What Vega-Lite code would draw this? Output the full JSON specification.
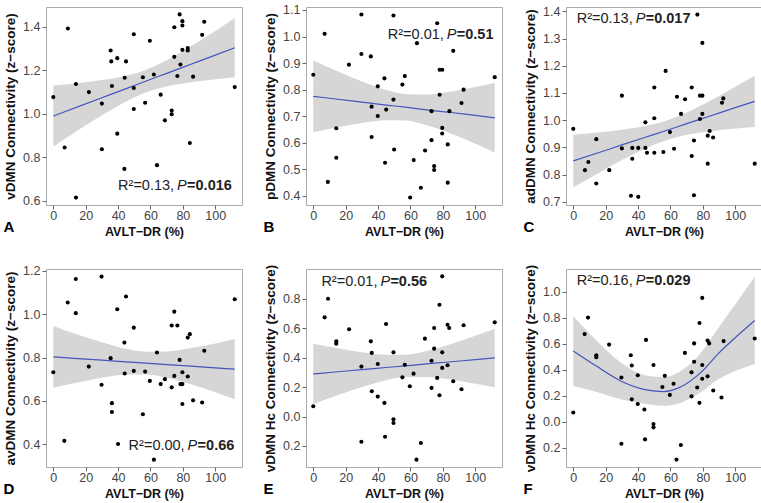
{
"$schema":"https://vega.github.io/schema/vega-lite/v6.json",
"padding":{"left":3,"top":3,"right":0,"bottom":0},
"background":"white",
"columns":3,
"spacing":{"row":64,"column":64},
"bounds":"flush",
"datasets":{
"ptsA":[{"x":0,"y":1.077},{"x":7,"y":0.845},{"x":9,"y":1.392},{"x":14,"y":1.137},{"x":14,"y":0.615},{"x":22,"y":1.1},{"x":30,"y":1.047},{"x":30,"y":0.837},{"x":35.4,"y":1.291},{"x":35.8,"y":1.241},{"x":36.2,"y":1.128},{"x":39.5,"y":1.256},{"x":39.5,"y":0.909},{"x":43.9,"y":0.747},{"x":44.1,"y":1.166},{"x":44.9,"y":1.241},{"x":49.7,"y":1.366},{"x":49.7,"y":1.119},{"x":49.7,"y":1.022},{"x":55.3,"y":1.168},{"x":56.7,"y":1.051},{"x":59.6,"y":1.336},{"x":62.1,"y":1.181},{"x":64,"y":0.764},{"x":66.3,"y":1.088},{"x":68.9,"y":0.97},{"x":73.1,"y":1.015},{"x":73.1,"y":0.998},{"x":74.7,"y":1.398},{"x":74.7,"y":1.262},{"x":76.6,"y":1.174},{"x":78,"y":1.457},{"x":78.5,"y":1.227},{"x":79.7,"y":1.426},{"x":79.7,"y":1.406},{"x":79.7,"y":1.294},{"x":83,"y":1.302},{"x":83,"y":1.291},{"x":84.3,"y":0.866},{"x":86.3,"y":1.171},{"x":91.9,"y":1.363},{"x":93.2,"y":1.423},{"x":112,"y":1.123}],
"ptsB":[{"x":0,"y":0.856},{"x":7,"y":1.01},{"x":9,"y":0.453},{"x":14.2,"y":0.655},{"x":14.2,"y":0.544},{"x":22,"y":0.894},{"x":29.7,"y":1.083},{"x":29.7,"y":0.934},{"x":35.5,"y":0.925},{"x":36,"y":0.736},{"x":36,"y":0.622},{"x":39.8,"y":0.8125},{"x":39.8,"y":0.701},{"x":43.9,"y":0.8425},{"x":44.3,"y":0.525},{"x":45,"y":0.725},{"x":49.5,"y":0.7625},{"x":49.5,"y":1.079},{"x":49.9,"y":0.575},{"x":55,"y":0.819},{"x":56.5,"y":0.851},{"x":62,"y":0.535},{"x":64,"y":0.975},{"x":66.4,"y":0.431},{"x":59.8,"y":0.394},{"x":69,"y":0.571},{"x":73,"y":0.61},{"x":73,"y":0.719},{"x":74.6,"y":0.5125},{"x":74.6,"y":0.4975},{"x":76.5,"y":1.05},{"x":78,"y":0.781},{"x":78,"y":0.875},{"x":79.6,"y":0.875},{"x":79.6,"y":0.656},{"x":79.6,"y":0.635},{"x":83,"y":0.594},{"x":83,"y":0.45},{"x":84,"y":0.719},{"x":86.4,"y":0.946},{"x":91.5,"y":0.75},{"x":92.8,"y":0.8},{"x":112,"y":0.847}],
"ptsC":[{"x":0,"y":0.968},{"x":7.2,"y":0.816},{"x":9.3,"y":0.846},{"x":14.2,"y":0.93},{"x":14.2,"y":0.767},{"x":22.2,"y":0.816},{"x":30,"y":0.896},{"x":30,"y":1.09},{"x":35.6,"y":0.722},{"x":36.4,"y":0.898},{"x":36.4,"y":0.858},{"x":40.1,"y":0.718},{"x":40.1,"y":0.898},{"x":44.5,"y":0.992},{"x":44.5,"y":0.898},{"x":45.5,"y":0.88},{"x":50,"y":0.88},{"x":50,"y":1.007},{"x":50,"y":1.12},{"x":55.6,"y":0.883},{"x":57,"y":1.181},{"x":59.7,"y":0.956},{"x":62.2,"y":0.895},{"x":64,"y":1.086},{"x":66.5,"y":1.023},{"x":69,"y":1.077},{"x":73.1,"y":1.12},{"x":73.1,"y":0.868},{"x":74.5,"y":0.925},{"x":74.5,"y":0.724},{"x":76.6,"y":1.388},{"x":78.2,"y":1.004},{"x":78.2,"y":1.09},{"x":79.7,"y":1.09},{"x":79.7,"y":1.284},{"x":79.7,"y":1.023},{"x":83,"y":0.943},{"x":83,"y":0.84},{"x":84.2,"y":0.96},{"x":86.3,"y":0.936},{"x":91.8,"y":1.064},{"x":92.6,"y":1.08},{"x":112,"y":0.84}],
"ptsD":[{"x":0,"y":0.732},{"x":6.8,"y":0.415},{"x":8.9,"y":1.054},{"x":13.9,"y":1.163},{"x":13.9,"y":1.005},{"x":21.9,"y":0.758},{"x":29.8,"y":1.174},{"x":29.8,"y":0.674},{"x":35.4,"y":0.797},{"x":36.2,"y":0.589},{"x":36.2,"y":0.548},{"x":39.5,"y":1.023},{"x":40,"y":0.4},{"x":43.9,"y":0.869},{"x":44.1,"y":0.726},{"x":44.9,"y":1.082},{"x":49.7,"y":0.938},{"x":49.7,"y":0.738},{"x":55.3,"y":0.538},{"x":56.7,"y":0.735},{"x":59.6,"y":0.692},{"x":62.1,"y":0.328},{"x":64,"y":0.823},{"x":66.3,"y":0.677},{"x":68.9,"y":0.7},{"x":73.1,"y":0.948},{"x":73.1,"y":0.662},{"x":74.7,"y":1.012},{"x":74.7,"y":0.715},{"x":76.6,"y":0.948},{"x":78,"y":0.789},{"x":78.5,"y":0.677},{"x":79.7,"y":0.677},{"x":79.7,"y":0.732},{"x":79.7,"y":0.585},{"x":83,"y":0.712},{"x":83,"y":0.892},{"x":84.3,"y":0.908},{"x":86.3,"y":0.602},{"x":91.9,"y":0.592},{"x":93.2,"y":0.831},{"x":112,"y":1.069}],
"ptsE":[{"x":0,"y":0.07},{"x":7,"y":0.675},{"x":9.1,"y":0.802},{"x":14.2,"y":0.512},{"x":14.2,"y":0.496},{"x":22.1,"y":0.594},{"x":29.7,"y":0.34},{"x":29.7,"y":-0.171},{"x":35.5,"y":0.512},{"x":36.1,"y":0.433},{"x":36.1,"y":0.172},{"x":39.8,"y":0.358},{"x":39.8,"y":0.136},{"x":43.9,"y":0.093},{"x":44.3,"y":-0.137},{"x":44.9,"y":0.63},{"x":49.5,"y":0.437},{"x":49.5,"y":-0.019},{"x":49.5,"y":-0.044},{"x":55,"y":0.267},{"x":56.5,"y":0.353},{"x":59.6,"y":0.206},{"x":61.9,"y":0.292},{"x":63.7,"y":-0.293},{"x":66.4,"y":-0.18},{"x":68.9,"y":0.53},{"x":73,"y":0.38},{"x":73,"y":0.195},{"x":74.6,"y":0.603},{"x":74.6,"y":0.462},{"x":76.5,"y":0.263},{"x":77.9,"y":0.761},{"x":77.9,"y":0.145},{"x":79.6,"y":0.954},{"x":79.6,"y":0.437},{"x":79.6,"y":0.331},{"x":82.9,"y":0.625},{"x":82.9,"y":0.349},{"x":83.9,"y":0.603},{"x":86.4,"y":0.24},{"x":91.5,"y":0.186},{"x":92.8,"y":0.621},{"x":112,"y":0.641}],
"fitA":[{"x":0,"y":0.99,"lo":0.85,"hi":1.13},{"x":15,"y":1.032,"lo":0.923,"hi":1.141},{"x":30,"y":1.074,"lo":0.993,"hi":1.155},{"x":45,"y":1.116,"lo":1.057,"hi":1.175},{"x":57,"y":1.15,"lo":1.098,"hi":1.202},{"x":70,"y":1.186,"lo":1.126,"hi":1.246},{"x":85,"y":1.228,"lo":1.145,"hi":1.311},{"x":100,"y":1.27,"lo":1.159,"hi":1.381},{"x":112,"y":1.304,"lo":1.168,"hi":1.44}],
"fitB":[{"x":0,"y":0.775,"lo":0.64,"hi":0.91},{"x":15,"y":0.764,"lo":0.659,"hi":0.869},{"x":30,"y":0.753,"lo":0.675,"hi":0.831},{"x":45,"y":0.742,"lo":0.685,"hi":0.799},{"x":57,"y":0.734,"lo":0.684,"hi":0.784},{"x":70,"y":0.724,"lo":0.666,"hi":0.782},{"x":85,"y":0.714,"lo":0.635,"hi":0.793},{"x":100,"y":0.703,"lo":0.596,"hi":0.81},{"x":112,"y":0.694,"lo":0.563,"hi":0.825}],
"fitC":[{"x":0,"y":0.85,"lo":0.753,"hi":0.947},{"x":15,"y":0.879,"lo":0.803,"hi":0.955},{"x":30,"y":0.909,"lo":0.853,"hi":0.965},{"x":45,"y":0.938,"lo":0.897,"hi":0.979},{"x":57,"y":0.961,"lo":0.925,"hi":0.997},{"x":70,"y":0.987,"lo":0.946,"hi":1.028},{"x":85,"y":1.016,"lo":0.959,"hi":1.073},{"x":100,"y":1.046,"lo":0.969,"hi":1.123},{"x":112,"y":1.069,"lo":0.975,"hi":1.163}],
"fitD":[{"x":0,"y":0.803,"lo":0.66,"hi":0.946},{"x":15,"y":0.795,"lo":0.684,"hi":0.906},{"x":30,"y":0.788,"lo":0.706,"hi":0.87},{"x":45,"y":0.78,"lo":0.72,"hi":0.84},{"x":57,"y":0.774,"lo":0.721,"hi":0.827},{"x":70,"y":0.767,"lo":0.706,"hi":0.828},{"x":85,"y":0.76,"lo":0.676,"hi":0.844},{"x":100,"y":0.752,"lo":0.639,"hi":0.865},{"x":112,"y":0.746,"lo":0.607,"hi":0.885}],
"fitE":[{"x":0,"y":0.29,"lo":0.085,"hi":0.495},{"x":15,"y":0.305,"lo":0.145,"hi":0.465},{"x":30,"y":0.319,"lo":0.201,"hi":0.437},{"x":45,"y":0.334,"lo":0.248,"hi":0.42},{"x":57,"y":0.345,"lo":0.269,"hi":0.421},{"x":70,"y":0.358,"lo":0.27,"hi":0.446},{"x":85,"y":0.373,"lo":0.252,"hi":0.494},{"x":100,"y":0.387,"lo":0.224,"hi":0.55},{"x":112,"y":0.399,"lo":0.2,"hi":0.598}],
"fitF":[{"x":0,"y":0.545,"lo":0.275,"hi":0.815},{"x":14,"y":0.43,"lo":0.23,"hi":0.63},{"x":30,"y":0.31,"lo":0.17,"hi":0.45},{"x":45,"y":0.245,"lo":0.135,"hi":0.355},{"x":56,"y":0.232,"lo":0.122,"hi":0.342},{"x":65,"y":0.26,"lo":0.14,"hi":0.38},{"x":78,"y":0.37,"lo":0.22,"hi":0.52},{"x":90,"y":0.53,"lo":0.33,"hi":0.73},{"x":102,"y":0.67,"lo":0.4,"hi":0.94},{"x":112,"y":0.78,"lo":0.445,"hi":1.115}],
"txtA":[{"x":40,"y":0.669,"a":"R²=0.13,","p":"P","b":"=0.016"}],
"txtB":[{"x":46,"y":1.006,"a":"R²=0.01,","p":"P","b":"=0.51"}],
"txtC":[{"x":2.1,"y":1.372,"a":"R²=0.13,","p":"P","b":"=0.017"}],
"txtD":[{"x":46.5,"y":0.389,"a":"R²=0.00,","p":"P","b":"=0.66"}],
"txtE":[{"x":5,"y":0.916,"a":"R²=0.01,","p":"P","b":"=0.56"}],
"txtF":[{"x":2.1,"y":1.082,"a":"R²=0.16,","p":"P","b":"=0.029"}]
},
"concat":[
{"width":196,"height":198,"title":{"text":"A"},
 "encoding":{"x":{"field":"x","type":"quantitative","scale":{"domain":[-4.5,116.5],"nice":false,"zero":false},"axis":{"values":[0,20,40,60,80,100],"title":"AVLT−DR (%)"}},
  "y":{"field":"y","type":"quantitative","scale":{"domain":[0.581,1.491],"nice":false,"zero":false},"axis":{"values":[0.6,0.8,1.0,1.2,1.4],"format":".1f"},"title":"vDMN Connectivity (z−score)"}},
 "layer":[
  {"data":{"name":"fitA"},"mark":{"type":"area","color":"#d6d6d6","interpolate":"monotone"},"encoding":{"y":{"field":"lo","type":"quantitative","title":"vDMN Connectivity (z−score)"},"y2":{"field":"hi"}}},
  {"data":{"name":"fitA"},"mark":{"type":"line","color":"#4455bb","strokeWidth":1.2,"interpolate":"monotone"},"encoding":{}},
  {"data":{"name":"ptsA"},"mark":{"type":"circle","color":"#000","size":17,"opacity":1},"encoding":{}},
  {"data":{"name":"txtA"},"mark":{"type":"text","align":"left","baseline":"middle","fontSize":14.5,"color":"#222"},"encoding":{"text":{"field":"a"}}},
  {"data":{"name":"txtA"},"mark":{"type":"text","align":"left","baseline":"middle","fontSize":14.5,"fontStyle":"italic","color":"#222","dx":59},"encoding":{"text":{"field":"p"}}},
  {"data":{"name":"txtA"},"mark":{"type":"text","align":"left","baseline":"middle","fontSize":14.5,"fontWeight":"bold","color":"#222","dx":69},"encoding":{"text":{"field":"b"}}}
 ]},
{"width":196,"height":198,"title":{"text":"B"},
 "encoding":{"x":{"field":"x","type":"quantitative","scale":{"domain":[-4.5,116.5],"nice":false,"zero":false},"axis":{"values":[0,20,40,60,80,100],"title":"AVLT−DR (%)"}},
  "y":{"field":"y","type":"quantitative","scale":{"domain":[0.366,1.111],"nice":false,"zero":false},"axis":{"values":[0.4,0.5,0.6,0.7,0.8,0.9,1.0,1.1],"format":".1f"},"title":"pDMN Connectivity (z−score)"}},
 "layer":[
  {"data":{"name":"fitB"},"mark":{"type":"area","color":"#d6d6d6","interpolate":"monotone"},"encoding":{"y":{"field":"lo","type":"quantitative","title":"pDMN Connectivity (z−score)"},"y2":{"field":"hi"}}},
  {"data":{"name":"fitB"},"mark":{"type":"line","color":"#4455bb","strokeWidth":1.2,"interpolate":"monotone"},"encoding":{}},
  {"data":{"name":"ptsB"},"mark":{"type":"circle","color":"#000","size":17,"opacity":1},"encoding":{}},
  {"data":{"name":"txtB"},"mark":{"type":"text","align":"left","baseline":"middle","fontSize":14.5,"color":"#222"},"encoding":{"text":{"field":"a"}}},
  {"data":{"name":"txtB"},"mark":{"type":"text","align":"left","baseline":"middle","fontSize":14.5,"fontStyle":"italic","color":"#222","dx":59},"encoding":{"text":{"field":"p"}}},
  {"data":{"name":"txtB"},"mark":{"type":"text","align":"left","baseline":"middle","fontSize":14.5,"fontWeight":"bold","color":"#222","dx":69},"encoding":{"text":{"field":"b"}}}
 ]},
{"width":196,"height":198,"title":{"text":"C"},
 "encoding":{"x":{"field":"x","type":"quantitative","scale":{"domain":[-4.5,116.5],"nice":false,"zero":false},"axis":{"values":[0,20,40,60,80,100],"title":"AVLT−DR (%)"}},
  "y":{"field":"y","type":"quantitative","scale":{"domain":[0.688,1.416],"nice":false,"zero":false},"axis":{"values":[0.7,0.8,0.9,1.0,1.1,1.2,1.3,1.4],"format":".1f"},"title":"adDMN Connectivity (z−score)"}},
 "layer":[
  {"data":{"name":"fitC"},"mark":{"type":"area","color":"#d6d6d6","interpolate":"monotone"},"encoding":{"y":{"field":"lo","type":"quantitative","title":"adDMN Connectivity (z−score)"},"y2":{"field":"hi"}}},
  {"data":{"name":"fitC"},"mark":{"type":"line","color":"#4455bb","strokeWidth":1.2,"interpolate":"monotone"},"encoding":{}},
  {"data":{"name":"ptsC"},"mark":{"type":"circle","color":"#000","size":17,"opacity":1},"encoding":{}},
  {"data":{"name":"txtC"},"mark":{"type":"text","align":"left","baseline":"middle","fontSize":14.5,"color":"#222"},"encoding":{"text":{"field":"a"}}},
  {"data":{"name":"txtC"},"mark":{"type":"text","align":"left","baseline":"middle","fontSize":14.5,"fontStyle":"italic","color":"#222","dx":59},"encoding":{"text":{"field":"p"}}},
  {"data":{"name":"txtC"},"mark":{"type":"text","align":"left","baseline":"middle","fontSize":14.5,"fontWeight":"bold","color":"#222","dx":69},"encoding":{"text":{"field":"b"}}}
 ]},
{"width":196,"height":198,"title":{"text":"D"},
 "encoding":{"x":{"field":"x","type":"quantitative","scale":{"domain":[-4.5,116.5],"nice":false,"zero":false},"axis":{"values":[0,20,40,60,80,100],"title":"AVLT−DR (%)"}},
  "y":{"field":"y","type":"quantitative","scale":{"domain":[0.294,1.209],"nice":false,"zero":false},"axis":{"values":[0.4,0.6,0.8,1.0,1.2],"format":".1f"},"title":"avDMN Connectivity (z−score)"}},
 "layer":[
  {"data":{"name":"fitD"},"mark":{"type":"area","color":"#d6d6d6","interpolate":"monotone"},"encoding":{"y":{"field":"lo","type":"quantitative","title":"avDMN Connectivity (z−score)"},"y2":{"field":"hi"}}},
  {"data":{"name":"fitD"},"mark":{"type":"line","color":"#4455bb","strokeWidth":1.2,"interpolate":"monotone"},"encoding":{}},
  {"data":{"name":"ptsD"},"mark":{"type":"circle","color":"#000","size":17,"opacity":1},"encoding":{}},
  {"data":{"name":"txtD"},"mark":{"type":"text","align":"left","baseline":"middle","fontSize":14.5,"color":"#222"},"encoding":{"text":{"field":"a"}}},
  {"data":{"name":"txtD"},"mark":{"type":"text","align":"left","baseline":"middle","fontSize":14.5,"fontStyle":"italic","color":"#222","dx":59},"encoding":{"text":{"field":"p"}}},
  {"data":{"name":"txtD"},"mark":{"type":"text","align":"left","baseline":"middle","fontSize":14.5,"fontWeight":"bold","color":"#222","dx":69},"encoding":{"text":{"field":"b"}}}
 ]},
{"width":196,"height":198,"title":{"text":"E"},
 "encoding":{"x":{"field":"x","type":"quantitative","scale":{"domain":[-4.5,116.5],"nice":false,"zero":false},"axis":{"values":[0,20,40,60,80,100],"title":"AVLT−DR (%)"}},
  "y":{"field":"y","type":"quantitative","scale":{"domain":[-0.343,1.004],"nice":false,"zero":false},"axis":{"values":[-0.2,0,0.2,0.4,0.6,0.8],"labelExpr":"format(abs(datum.value), '.1f')"},"title":"vDMN Hc Connectivity (z−score)"}},
 "layer":[
  {"data":{"name":"fitE"},"mark":{"type":"area","color":"#d6d6d6","interpolate":"monotone"},"encoding":{"y":{"field":"lo","type":"quantitative","title":"vDMN Hc Connectivity (z−score)"},"y2":{"field":"hi"}}},
  {"data":{"name":"fitE"},"mark":{"type":"line","color":"#4455bb","strokeWidth":1.2,"interpolate":"monotone"},"encoding":{}},
  {"data":{"name":"ptsE"},"mark":{"type":"circle","color":"#000","size":17,"opacity":1},"encoding":{}},
  {"data":{"name":"txtE"},"mark":{"type":"text","align":"left","baseline":"middle","fontSize":14.5,"color":"#222"},"encoding":{"text":{"field":"a"}}},
  {"data":{"name":"txtE"},"mark":{"type":"text","align":"left","baseline":"middle","fontSize":14.5,"fontStyle":"italic","color":"#222","dx":59},"encoding":{"text":{"field":"p"}}},
  {"data":{"name":"txtE"},"mark":{"type":"text","align":"left","baseline":"middle","fontSize":14.5,"fontWeight":"bold","color":"#222","dx":69},"encoding":{"text":{"field":"b"}}}
 ]},
{"width":196,"height":198,"title":{"text":"F"},
 "encoding":{"x":{"field":"x","type":"quantitative","scale":{"domain":[-4.5,116.5],"nice":false,"zero":false},"axis":{"values":[0,20,40,60,80,100],"title":"AVLT−DR (%)"}},
  "y":{"field":"y","type":"quantitative","scale":{"domain":[-0.35,1.177],"nice":false,"zero":false},"axis":{"values":[-0.2,0,0.2,0.4,0.6,0.8,1.0],"labelExpr":"format(abs(datum.value), '.1f')"},"title":"vDMN Hc Connectivity (z−score)"}},
 "layer":[
  {"data":{"name":"fitF"},"mark":{"type":"area","color":"#d6d6d6","interpolate":"monotone"},"encoding":{"y":{"field":"lo","type":"quantitative","title":"vDMN Hc Connectivity (z−score)"},"y2":{"field":"hi"}}},
  {"data":{"name":"fitF"},"mark":{"type":"line","color":"#4455bb","strokeWidth":1.2,"interpolate":"monotone"},"encoding":{}},
  {"data":{"name":"ptsE"},"mark":{"type":"circle","color":"#000","size":17,"opacity":1},"encoding":{}},
  {"data":{"name":"txtF"},"mark":{"type":"text","align":"left","baseline":"middle","fontSize":14.5,"color":"#222"},"encoding":{"text":{"field":"a"}}},
  {"data":{"name":"txtF"},"mark":{"type":"text","align":"left","baseline":"middle","fontSize":14.5,"fontStyle":"italic","color":"#222","dx":59},"encoding":{"text":{"field":"p"}}},
  {"data":{"name":"txtF"},"mark":{"type":"text","align":"left","baseline":"middle","fontSize":14.5,"fontWeight":"bold","color":"#222","dx":69},"encoding":{"text":{"field":"b"}}}
 ]}
],
"config":{
 "font":"Liberation Sans",
 "view":{"stroke":"#aaaaaa","strokeWidth":1},
 "axis":{"domain":false,"grid":false,"tickColor":"#666","tickSize":4,"labelColor":"#444","labelFontSize":12.5,"labelFont":"Liberation Sans","titleFont":"Liberation Sans","titleFontWeight":"bold","titleColor":"#111"},
 "axisX":{"labelPadding":0,"titlePadding":4,"titleFontSize":12.5},
 "axisY":{"labelPadding":2,"titlePadding":5,"titleFontSize":13.5},
 "title":{"orient":"bottom","anchor":"start","frame":"bounds","fontSize":15,"fontWeight":"bold","color":"#000","offset":-18,"font":"Liberation Sans"},
 "text":{"font":"Liberation Sans"}
}
}
